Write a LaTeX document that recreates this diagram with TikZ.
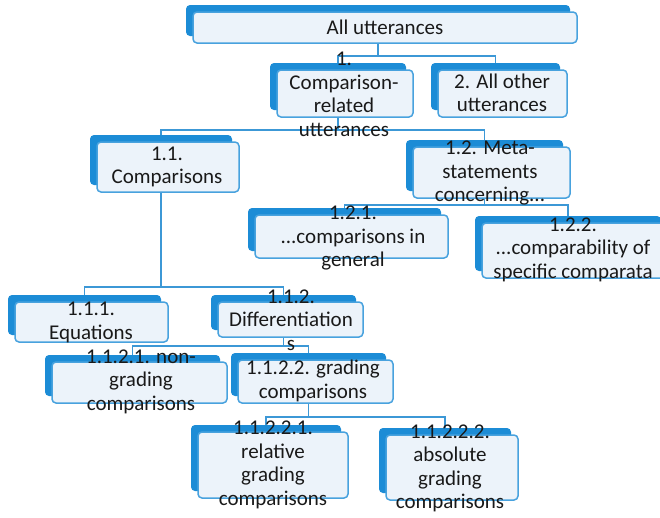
\documentclass[tikz,border=0pt]{standalone}
\usepackage{fontspec}
\setmainfont{Carlito}
\usetikzlibrary{calc}
\pgfdeclarelayer{bg}
\pgfdeclarelayer{lines}
\pgfdeclarelayer{fronts}
\pgfsetlayers{bg,lines,fronts,main}
\definecolor{backblue}{RGB}{28,140,214}
\definecolor{edgeblue}{RGB}{72,162,222}
\definecolor{frontfill}{RGB}{236,243,250}
\definecolor{lineblue}{RGB}{60,152,214}
\definecolor{txt}{RGB}{25,25,25}
\tikzset{
  frontbox/.style={draw=edgeblue, line width=1.5pt, fill=frontfill, rounded corners=4pt, inner sep=0pt, outer sep=0pt},
  backbox/.style={fill=backblue, rounded corners=4pt, inner sep=0pt, outer sep=0pt},
  conn/.style={draw=lineblue, line width=1.5pt},
  lbl/.style={font=\fontsize{21}{23.5}\selectfont, align=center, inner sep=0pt, text=txt}
}
\newcommand\mkbox[5]{%
  \begin{pgfonlayer}{fronts}
  \node[frontbox, minimum width={(#4-#2)*1pt}, minimum height={(#5-#3)*1pt}] (#1) at ({(#2+#4)/2},{(#3+#5)/2}) {};
  \end{pgfonlayer}
  \begin{pgfonlayer}{bg}
  \node[backbox, minimum width={(#4-#2)*1pt}, minimum height={(#5-#3)*1pt}] (#1b) at ({(#2+#4)/2-7},{(#3+#5)/2-7}) {};
  \end{pgfonlayer}}
\begin{document}
\begin{tikzpicture}[x=1pt,y=-1pt]
\useasboundingbox (0,0) rectangle (660,517);
\clip (0,0) rectangle (660,517);
\begin{pgfonlayer}{bg}
\fill[white] (0,0) rectangle (660,517);
\end{pgfonlayer}
% boxes
\mkbox{root}{193}{12}{577}{43}
\mkbox{n1}{277}{70}{413}{117}
\mkbox{n2}{438}{70}{567}{117}
\mkbox{n11}{97}{142}{239}{192}
\mkbox{n12}{413}{147}{570}{198}
\mkbox{n121}{255}{215}{448}{258}
\mkbox{n122}{482}{223}{668}{278}
\mkbox{n111}{15}{302}{168}{342}
\mkbox{n112}{218}{302}{363}{337}
\mkbox{n1121}{52}{362}{227}{403}
\mkbox{n1122}{238}{360}{393}{403}
\mkbox{n11221}{198}{432}{348}{498}
\mkbox{n11222}{386}{435}{518}{500}
% junction levels
\coordinate (ja) at (0,56);
\coordinate (jb) at (0,130);
\coordinate (jd) at (0,205);
\coordinate (jc) at (0,287);
\coordinate (je) at (0,346);
\coordinate (jf) at (0,417);
% connectors
\begin{pgfonlayer}{lines}
\draw[conn] (rootb.south) -- (rootb.south |- ja) -| (n1b.north);
\draw[conn] (rootb.south |- ja) -| (n2b.north);
\draw[conn] (n1b.south) -- (n1b.south |- jb) -| (n11b.north);
\draw[conn] (n1b.south |- jb) -| (n12b.north);
\draw[conn] (n12b.south) -- (n12b.south |- jd) -| (n121b.north);
\draw[conn] (n12b.south |- jd) -| (n122b.north);
\draw[conn] (n11b.south) -- (n11b.south |- jc) -| (n111b.north);
\draw[conn] (n11b.south |- jc) -| (n112b.north);
\draw[conn] (n112b.south) -- (n112b.south |- je) -| (n1121b.north);
\draw[conn] (n112b.south |- je) -| (n1122b.north);
\draw[conn] (n1122b.south) -- (n1122b.south |- jf) -| (n11221b.north);
\draw[conn] (n1122b.south |- jf) -| (n11222b.north);
\end{pgfonlayer}
% texts
\node[lbl] (t0) at (385,27) {All utterances};
\node[lbl] (t1) at (344,94.5) {1.\\Comparison-\\related\\utterances};
\node[lbl] (t2) at (502,93) {2. All other\\utterances};
\node[lbl] (t11) at (167,167) {1.1.\\Comparisons};
\node[lbl] (t12) at (490,173) {1.2. Meta-\\statements\\concerning...};
\node[lbl] (t121) at (353,238) {1.2.1.\\...comparisons in\\general};
\node[lbl] (t122) at (573,249.5) {1.2.2.\\...comparability of\\specific comparata};
\node[lbl] (t111) at (91,322.5) {1.1.1.\\Equations};
\node[lbl] (t112) at (291,320) {1.1.2.\\Differentiation\\s};
\node[lbl] (t1121) at (141,381.5) {1.1.2.1. non-\\grading\\comparisons};
\node[lbl] (t1122) at (313,381) {1.1.2.2. grading\\comparisons};
\node[lbl] (t11221) at (273,465) {1.1.2.2.1.\\relative\\grading\\comparisons};
\node[lbl] (t11222) at (450,468.5) {1.1.2.2.2.\\absolute\\grading\\comparisons};
\end{tikzpicture}
\end{document}
